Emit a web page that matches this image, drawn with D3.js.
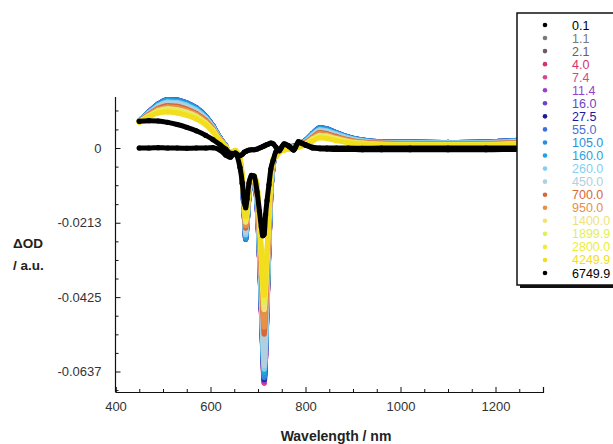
<!DOCTYPE html>
<html>
<head>
<meta charset="utf-8">
<script src="https://cdn.jsdelivr.net/npm/d3@7"></script>
<style>
body { margin: 0; background: #fff; }
svg { display: block; font-family: "Liberation Sans", Arial, Helvetica, sans-serif; }
</style>
</head>
<body>
<svg id="chart" width="613" height="444"></svg>
<script>
// wavelength grid (nm), shared by every trace
var wavelengths = [450, 470, 490, 510, 530, 550, 570, 590, 605, 620, 632,
	642, 652, 662, 667, 671, 674, 677, 681, 686, 692,
	698, 703, 707, 710, 713, 716, 719, 723, 727, 732,
	738, 745, 755, 765, 775, 785, 800, 815, 830, 845, 865, 890, 920, 960, 1020, 1100, 1180, 1250, 1300];

// delay times (ps) and their colours, legend order
var delays = ["0.1", "1.1", "2.1", "4.0", "7.4", "11.4", "16.0", "27.5", "55.0", "105.0",
	"160.0", "260.0", "450.0", "700.0", "950.0", "1400.0", "1899.9", "2800.0", "4249.9", "6749.9"];
var colors = ["#000000", "#7a7a7a", "#6b5b6b", "#d4336c", "#d9448f", "#9a40d0", "#6645c8", "#1a1a9a", "#3f70d8", "#2a90d8",
	"#1fa4e0", "#84cff0", "#b0d0e0", "#d8683a", "#e89048", "#efe27a", "#e2ef5a", "#eded3a", "#f2de1e", "#000000"];

// dOD values, in units of 1e-3
var od01 = [0.0, 0.0, 0.1, 0.0, 0.0, -0.1, 0.0, 0.0, 0.1, -0.6, -2.0,
	-2.6, -1.4, -2.2, -1.8, -1.2, -1.0, -0.8, -0.6, -0.5, -0.5,
	-0.3, 0.0, 0.2, 0.4, 0.6, 0.8, 1.0, 1.2, 1.4, 1.2,
	0.2, -0.8, 1.2, 0.6, -0.5, 1.8, 1.0, 0.2, 0.0, 0.0, 0.0, 0.0, -0.1, 0.0, 0.0, 0.0, 0.0, 0.0, 0.0];
var od11 = [7.6, 9.8, 11.7, 12.6, 12.4, 11.6, 10.4, 8.2, 5.8, 2.6, 0.5,
	-1.5, -0.8, -3.4, -9.3, -17.6, -23.7, -20.3, -13.0, -9.5, -9.0,
	-14.8, -27.7, -41.5, -52.6, -60, -53.5, -41.5, -25.9, -12.0, -4.6,
	-1.9, -0.7, -0.1, 0.1, 0.3, 0.7, 1.7, 3.4, 4.8, 4.5, 3.6, 2.6, 1.9, 1.5, 1.4, 1.3, 1.4, 1.8, 1.9];
var od21 = [7.6, 10.0, 12.1, 13.1, 13.0, 12.2, 10.9, 8.6, 6.0, 2.7, 0.5,
	-1.5, -0.9, -3.5, -9.6, -18.2, -24.7, -21.0, -13.4, -9.7, -9.2,
	-15.5, -29.1, -43.6, -55.3, -63, -56.2, -43.6, -27.2, -12.6, -4.9,
	-1.7, -0.6, 0.0, 0.2, 0.4, 0.8, 1.9, 3.8, 5.2, 4.9, 4.0, 2.9, 2.1, 1.6, 1.5, 1.4, 1.5, 2.0, 2.1];
var od40 = [7.7, 10.2, 12.3, 13.5, 13.3, 12.5, 11.2, 8.9, 6.2, 2.8, 0.6,
	-1.6, -0.9, -3.5, -9.8, -18.6, -25.4, -21.5, -13.7, -9.9, -9.4,
	-16.5, -31.0, -46.4, -58.8, -67, -59.8, -46.4, -28.9, -13.4, -5.2,
	-1.6, -0.6, 0.1, 0.3, 0.4, 0.9, 2.1, 4.0, 5.5, 5.2, 4.2, 3.0, 2.2, 1.7, 1.6, 1.5, 1.6, 2.1, 2.3];
var od74 = [7.7, 10.2, 12.4, 13.5, 13.4, 12.6, 11.2, 8.9, 6.3, 2.8, 0.6,
	-1.6, -0.9, -3.6, -9.8, -18.7, -25.5, -21.6, -13.8, -9.9, -9.4,
	-16.5, -31.0, -46.4, -58.8, -66.8, -59.8, -46.4, -28.9, -13.4, -5.2,
	-1.6, -0.6, 0.1, 0.3, 0.4, 0.9, 2.1, 4.0, 5.6, 5.3, 4.2, 3.1, 2.2, 1.7, 1.6, 1.5, 1.6, 2.1, 2.3];
var od114 = [7.7, 10.2, 12.5, 13.6, 13.5, 12.7, 11.3, 9.0, 6.3, 2.9, 0.6,
	-1.6, -0.9, -3.6, -9.9, -18.8, -25.7, -21.8, -13.9, -9.9, -9.4,
	-16.4, -30.7, -46.0, -58.3, -66.5, -59.3, -46.0, -28.7, -13.3, -5.1,
	-1.6, -0.5, 0.2, 0.4, 0.5, 1.0, 2.1, 4.1, 5.7, 5.4, 4.3, 3.1, 2.2, 1.8, 1.7, 1.6, 1.7, 2.1, 2.3];
var od160 = [7.7, 10.3, 12.5, 13.7, 13.6, 12.8, 11.4, 9.0, 6.3, 2.9, 0.6,
	-1.6, -0.9, -3.6, -9.9, -18.9, -25.8, -21.9, -13.9, -10.0, -9.5,
	-16.2, -30.5, -45.7, -57.9, -66, -58.9, -45.7, -28.4, -13.2, -5.1,
	-1.5, -0.5, 0.2, 0.4, 0.5, 1.0, 2.2, 4.1, 5.7, 5.4, 4.3, 3.1, 2.3, 1.8, 1.7, 1.6, 1.7, 2.2, 2.4];
var od275 = [7.7, 10.3, 12.6, 13.8, 13.7, 12.9, 11.5, 9.1, 6.4, 2.9, 0.6,
	-1.6, -0.9, -3.6, -10.0, -19.0, -26.0, -22.0, -14.0, -10.0, -9.5,
	-16.2, -30.5, -45.7, -57.9, -65.9, -58.9, -45.7, -28.4, -13.2, -5.1,
	-1.5, -0.5, 0.2, 0.4, 0.5, 1.0, 2.2, 4.2, 5.8, 5.5, 4.4, 3.2, 2.3, 1.8, 1.7, 1.6, 1.7, 2.2, 2.4];
var od550 = [7.7, 10.3, 12.6, 13.8, 13.7, 12.9, 11.5, 9.1, 6.4, 2.9, 0.6,
	-1.6, -0.9, -3.6, -10.0, -19.0, -26.0, -22.0, -14.0, -10.0, -9.5,
	-16.1, -30.3, -45.3, -57.4, -65.5, -58.4, -45.3, -28.2, -13.1, -5.0,
	-1.5, -0.5, 0.2, 0.4, 0.5, 1.0, 2.2, 4.2, 5.8, 5.5, 4.4, 3.2, 2.3, 1.8, 1.7, 1.6, 1.7, 2.2, 2.4];
var od1050 = [7.7, 10.3, 12.5, 13.7, 13.6, 12.8, 11.4, 9.0, 6.3, 2.9, 0.6,
	-1.6, -0.9, -3.6, -9.9, -18.9, -25.8, -21.9, -13.9, -10.0, -9.5,
	-16.0, -30.0, -45.0, -57.0, -65.0, -58.0, -45.0, -28.0, -13.0, -5.0,
	-1.5, -0.5, 0.2, 0.4, 0.5, 1.0, 2.2, 4.1, 5.7, 5.4, 4.3, 3.1, 2.3, 1.8, 1.7, 1.6, 1.7, 2.2, 2.4];
var od1600 = [7.7, 10.2, 12.3, 13.5, 13.3, 12.5, 11.2, 8.9, 6.2, 2.8, 0.6,
	-1.6, -0.9, -3.5, -9.8, -18.6, -25.4, -21.5, -13.7, -9.9, -9.4,
	-15.7, -29.6, -44.3, -56.1, -64, -57.1, -44.3, -27.6, -12.8, -4.9,
	-1.6, -0.6, 0.1, 0.3, 0.4, 0.9, 2.1, 4.0, 5.5, 5.2, 4.2, 3.0, 2.2, 1.7, 1.6, 1.5, 1.6, 2.1, 2.3];
var od2600 = [7.6, 10.0, 12.1, 13.1, 13.0, 12.2, 10.9, 8.6, 6.0, 2.7, 0.5,
	-1.5, -0.9, -3.5, -9.6, -18.2, -24.7, -21.0, -13.4, -9.7, -9.2,
	-15.5, -29.1, -43.6, -55.3, -63, -56.2, -43.6, -27.2, -12.6, -4.9,
	-1.7, -0.6, 0.0, 0.2, 0.4, 0.8, 1.9, 3.8, 5.2, 4.9, 4.0, 2.9, 2.1, 1.6, 1.5, 1.4, 1.5, 2.0, 2.1];
var od4500 = [7.6, 9.9, 11.8, 12.8, 12.6, 11.8, 10.5, 8.4, 5.9, 2.6, 0.5,
	-1.5, -0.8, -3.4, -9.4, -17.8, -24.1, -20.5, -13.1, -9.6, -9.1,
	-15.3, -28.6, -42.9, -54.4, -62, -55.3, -42.9, -26.7, -12.4, -4.8,
	-1.8, -0.7, 0.0, 0.2, 0.3, 0.8, 1.8, 3.5, 4.9, 4.7, 3.7, 2.7, 1.9, 1.5, 1.4, 1.4, 1.4, 1.8, 2.0];
var od7000 = [7.6, 9.6, 11.3, 12.1, 11.9, 11.1, 9.9, 7.9, 5.5, 2.5, 0.5,
	-1.5, -0.8, -3.3, -9.0, -17.0, -22.8, -19.5, -12.5, -9.3, -8.8,
	-13.0, -24.5, -36.7, -46.5, -53, -47.3, -36.7, -22.8, -10.6, -4.1,
	-2.0, -0.9, -0.2, 0.0, 0.2, 0.6, 1.6, 3.1, 4.4, 4.1, 3.3, 2.4, 1.7, 1.4, 1.3, 1.2, 1.3, 1.6, 1.8];
var od9500 = [7.5, 9.4, 11.0, 11.7, 11.5, 10.7, 9.6, 7.6, 5.3, 2.4, 0.4,
	-1.4, -0.8, -3.2, -8.8, -16.6, -22.1, -19.0, -12.2, -9.1, -8.6,
	-12.5, -23.6, -35.3, -44.7, -51, -45.5, -35.3, -22.0, -10.2, -3.9,
	-2.1, -0.9, -0.3, -0.1, 0.1, 0.5, 1.4, 2.9, 4.1, 3.8, 3.0, 2.2, 1.6, 1.3, 1.2, 1.1, 1.2, 1.5, 1.6];
var od14000 = [7.5, 9.2, 10.7, 11.2, 10.9, 10.2, 9.1, 7.2, 5.1, 2.2, 0.4,
	-1.4, -0.8, -3.2, -8.5, -16.0, -21.1, -18.3, -11.8, -8.9, -8.4,
	-11.3, -21.3, -31.8, -40.3, -46, -41.0, -31.8, -19.8, -9.2, -3.5,
	-2.3, -1.0, -0.4, -0.2, 0.0, 0.4, 1.2, 2.6, 3.6, 3.4, 2.7, 1.9, 1.4, 1.1, 1.0, 1.0, 1.0, 1.3, 1.4];
var od18999 = [7.4, 9.0, 10.4, 10.8, 10.6, 9.8, 8.8, 7.0, 4.9, 2.1, 0.3,
	-1.3, -0.7, -3.1, -8.3, -15.6, -20.5, -17.8, -11.5, -8.7, -8.2,
	-10.8, -20.3, -30.4, -38.6, -44, -39.2, -30.4, -19.0, -8.8, -3.4,
	-2.4, -1.1, -0.5, -0.3, -0.1, 0.3, 1.1, 2.3, 3.3, 3.1, 2.4, 1.8, 1.3, 1.0, 0.9, 0.9, 0.9, 1.2, 1.3];
var od28000 = [7.4, 8.9, 10.2, 10.5, 10.3, 9.5, 8.5, 6.8, 4.7, 2.1, 0.3,
	-1.3, -0.7, -3.0, -8.1, -15.3, -20.0, -17.4, -11.2, -8.6, -8.1,
	-10.6, -19.9, -29.8, -37.7, -43, -38.4, -29.8, -18.5, -8.6, -3.3,
	-2.4, -1.2, -0.5, -0.3, -0.2, 0.3, 1.0, 2.2, 3.1, 2.9, 2.3, 1.6, 1.2, 1.0, 0.9, 0.9, 0.9, 1.1, 1.2];
var od42499 = [7.4, 8.8, 10.0, 10.3, 10.0, 9.3, 8.3, 6.6, 4.6, 2.0, 0.3,
	-1.3, -0.7, -3.0, -8.0, -15.0, -19.5, -17.0, -11.0, -8.5, -8.0,
	-10.3, -19.4, -29.1, -36.8, -42, -37.5, -29.1, -18.1, -8.4, -3.2,
	-2.5, -1.2, -0.6, -0.4, -0.2, 0.2, 0.9, 2.0, 2.9, 2.7, 2.1, 1.5, 1.1, 0.9, 0.8, 0.8, 0.8, 1.0, 1.1];
var od67499 = [7.6, 7.8, 7.7, 7.3, 6.7, 5.9, 4.9, 3.6, 2.4, 0.9, -0.3,
	-1.5, -1.6, -5.5, -10, -15.5, -17, -14.5, -10, -7.8, -8,
	-12.5, -18, -22.5, -25, -24.5, -19, -15, -10.5, -6, -3.5,
	-1.0, -0.5, 1.0, 0.5, -0.6, 1.5, 0.8, 0.0, -0.2, -0.3, -0.4, -0.4, -0.5, -0.5, -0.5, -0.5, -0.5, -0.4, -0.4];

var traces = [od01, od11, od21, od40, od74, od114, od160, od275, od550, od1050,
	od1600, od2600, od4500, od7000, od9500, od14000, od18999, od28000, od42499, od67499];
// the two black traces go on top
var drawOrder = [1, 2, 3, 4, 5, 6, 7, 8, 9, 10, 11, 12, 13, 14, 15, 16, 17, 18, 19, 0];

// axis ticks
var yMajor = [0, -0.0213, -0.0425, -0.0637];
var yLabels = ["0", "-0.0213", "-0.0425", "-0.0637"];
var yMinor = [0.0107, 0.0053, -0.0053, -0.0106, -0.0160, -0.0266, -0.0319, -0.0372, -0.0478, -0.0531, -0.0584, -0.0690];
var xMajor = [400, 600, 800, 1000, 1200];
var xMinor = [450, 500, 550, 650, 700, 750, 850, 900, 950, 1050, 1100, 1150, 1250, 1300];

var svg = d3.select("#chart");

var x = d3.scaleLinear().domain([400, 1300]).range([115.5, 543]);
var y = d3.scaleLinear().domain([-0.06954, 0.01454]).range([392, 97]);

// traces
var line = d3.line()
	.x(function(d, i) { return x(wavelengths[i]); })
	.y(function(d) { return y(d / 1000); })
	.curve(d3.curveMonotoneX);

var plot = svg.append("g");
drawOrder.forEach(function(k) {
	var g = plot.append("g");
	g.append("path")
		.attr("d", line(traces[k]))
		.attr("fill", "none")
		.attr("stroke", colors[k])
		.attr("stroke-width", 5)
		.attr("stroke-linecap", "round")
		.attr("stroke-linejoin", "round");
	g.selectAll("circle")
		.data(traces[k])
		.enter().append("circle")
		.attr("cx", function(d, i) { return x(wavelengths[i]); })
		.attr("cy", function(d) { return y(d / 1000); })
		.attr("r", 2.6)
		.attr("fill", colors[k]);
});

// axes, ticks pointing inwards
var yAxis = d3.axisLeft(y).tickValues(yMajor)
	.tickFormat(function(d, i) { return yLabels[i]; })
	.tickSize(-5).tickPadding(14);
var gy = svg.append("g").attr("transform", "translate(115.5,0)").call(yAxis);
var gyMinor = svg.append("g").attr("transform", "translate(115.5,0)")
	.call(d3.axisLeft(y).tickValues(yMinor).tickFormat("").tickSize(-3));
gyMinor.select(".domain").remove();

var xAxis = d3.axisBottom(x).tickValues(xMajor).tickFormat(d3.format("d"))
	.tickSize(-5).tickPadding(10);
var gx = svg.append("g").attr("transform", "translate(0,392)").call(xAxis);
var gxMinor = svg.append("g").attr("transform", "translate(0,392)")
	.call(d3.axisBottom(x).tickValues(xMinor).tickFormat("").tickSize(-3));
gxMinor.select(".domain").remove();

svg.selectAll(".domain").attr("stroke", "#111").attr("stroke-width", 1.2);
svg.selectAll(".tick line").attr("stroke", "#111").attr("stroke-width", 1);
svg.selectAll(".tick text")
	.attr("font-family", "'Liberation Sans', Arial, sans-serif")
	.attr("font-size", 13)
	.attr("fill", "#333");
gy.selectAll("path.domain").attr("d", "M0,97V392");

// axis titles
svg.append("text").attr("x", 13).attr("y", 248)
	.attr("font-size", 13.5).attr("font-weight", "bold").attr("fill", "#222")
	.text("\u0394OD");
svg.append("text").attr("x", 13).attr("y", 270)
	.attr("font-size", 13.5).attr("font-weight", "bold").attr("fill", "#222")
	.text("/ a.u.");
svg.append("text").attr("x", 336).attr("y", 441)
	.attr("text-anchor", "middle")
	.attr("font-size", 14).attr("font-weight", "bold").attr("fill", "#222")
	.text("Wavelength / nm");

// legend box with drop shadow
var legend = svg.append("g");
legend.append("rect").attr("x", 520).attr("y", 16).attr("width", 120).attr("height", 272).attr("fill", "#111");
legend.append("rect").attr("x", 517).attr("y", 13).attr("width", 120).attr("height", 272)
	.attr("fill", "#fff").attr("stroke", "#111").attr("stroke-width", 1.5);

var rowY = d3.scaleLinear().domain([0, delays.length - 1]).range([25, 273]);
delays.forEach(function(lab, i) {
	legend.append("circle").attr("cx", 545).attr("cy", rowY(i)).attr("r", 2.3).attr("fill", colors[i]);
	legend.append("text").attr("x", 572).attr("y", rowY(i)).attr("dy", "0.36em")
		.attr("font-size", 12.5).attr("fill", colors[i]).text(lab);
});
</script>
</body>
</html>
